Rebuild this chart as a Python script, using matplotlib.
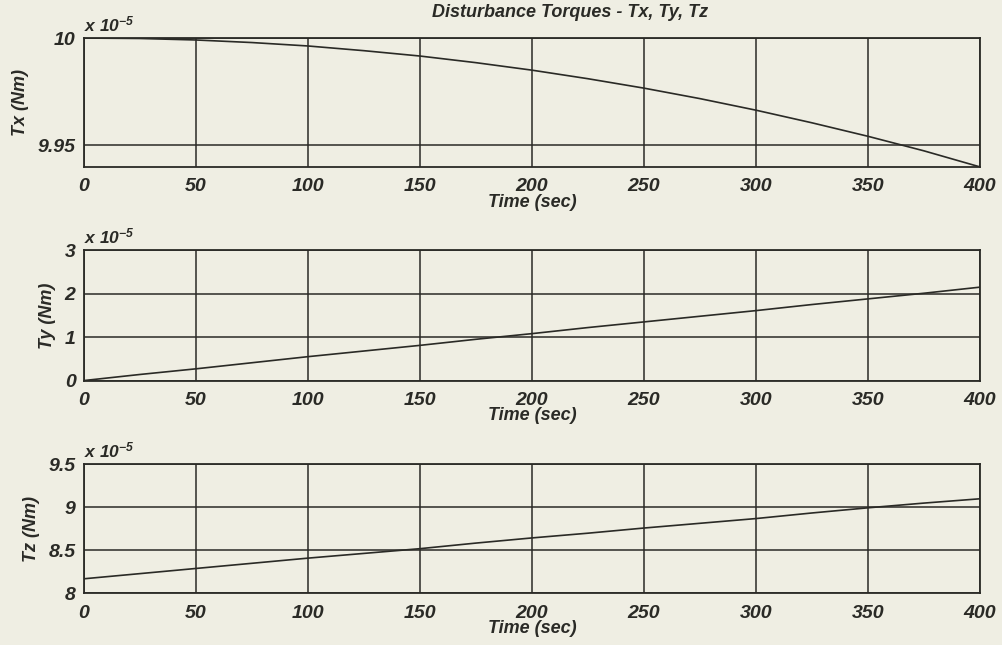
import numpy as np
import matplotlib.pyplot as plt

plt.rcParams['font.family'] = ['Liberation Sans', 'DejaVu Sans']
plt.rcParams['mathtext.fontset'] = 'custom'
plt.rcParams['mathtext.it'] = 'Liberation Sans:italic:bold'
plt.rcParams['mathtext.rm'] = 'Liberation Sans:italic:bold'

# time samples (sec) and torques, in units of 1e-5 Nm
time = [0, 25, 50, 75, 100, 125, 150, 175, 200, 225, 250, 275, 300, 325, 350, 375, 400]
tx = [10.0, 9.9998, 9.9991, 9.9979, 9.9963, 9.9941, 9.9916, 9.9885, 9.985,
      9.9810, 9.9766, 9.9717, 9.9663, 9.9604, 9.9541, 9.9473, 9.9398]
ty = [0.0, 0.14, 0.27, 0.41, 0.55, 0.68, 0.81, 0.95, 1.08, 1.22, 1.35,
      1.48, 1.61, 1.75, 1.88, 2.01, 2.15]
tz = [8.17, 8.23, 8.29, 8.35, 8.41, 8.465, 8.52, 8.585, 8.645, 8.70, 8.76,
      8.815, 8.87, 8.935, 8.995, 9.05, 9.10]

xticks = [0, 50, 100, 150, 200, 250, 300, 350, 400]
tx_ticks = [9.95, 10]
tx_labels = ['9.95', '10']
ty_ticks = [0, 1, 2, 3]
ty_labels = ['0', '1', '2', '3']
tz_ticks = [8, 8.5, 9, 9.5]
tz_labels = ['8', '8.5', '9', '9.5']

bg = '#efeee3'
ink = '#2a2a26'

fig = plt.figure(figsize=(10.02, 6.45), dpi=100, facecolor=bg)

# axes boxes in figure fractions
boxes = [[0.0838, 0.741, 0.894, 0.200],
         [0.0838, 0.410, 0.894, 0.202],
         [0.0838, 0.080, 0.894, 0.200]]

series = [tx, ty, tz]
ylims = [(9.9397, 10.0), (0, 3), (8, 9.5)]
yticks = [tx_ticks, ty_ticks, tz_ticks]
ylabels = [tx_labels, ty_labels, tz_labels]
names = ['Tx (Nm)', 'Ty (Nm)', 'Tz (Nm)']

for i in range(3):
    ax = fig.add_axes(boxes[i])
    ax.set_facecolor(bg)
    ax.plot(time, series[i], color=ink, lw=1.2)
    ax.set_xlim(0, 400)
    ax.set_ylim(*ylims[i])
    ax.set_xticks(xticks)
    ax.set_xticklabels([str(t) for t in xticks], fontsize=14, style='italic', weight='bold')
    ax.set_yticks(yticks[i])
    ax.set_yticklabels(ylabels[i], fontsize=14, style='italic', weight='bold')
    ax.tick_params(axis='x', length=0, pad=8, colors=ink)
    ax.tick_params(axis='y', length=0, pad=6, colors=ink)
    ax.grid(True, color=ink, lw=1.1, ls='-')
    for s in ax.spines.values():
        s.set_color(ink)
        s.set_linewidth(1.3)
    ax.set_xlabel('Time (sec)', fontsize=13, style='italic', weight='bold', color=ink, labelpad=-1)
    ax.set_ylabel(names[i], fontsize=13, style='italic', weight='bold', color=ink, labelpad=6)
    ax.text(0.0, 1.03, r'x 10$^{-5}$', transform=ax.transAxes, fontsize=12.5,
            style='italic', weight='bold', color=ink, ha='left', va='bottom')
    if i == 0:
        ax.text(0.543, 1.2, 'Disturbance Torques - Tx, Ty, Tz', transform=ax.transAxes,
                fontsize=13, style='italic', weight='bold', color=ink,
                ha='center', va='center')

fig.savefig('out.png', dpi=100, facecolor=bg)
